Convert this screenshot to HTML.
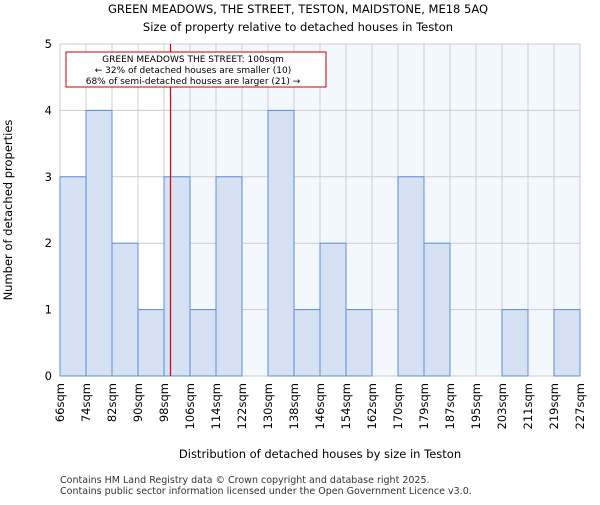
<!DOCTYPE html>
<html><head><meta charset="utf-8"><style>body{margin:0;background:#fff}svg{font-family:"DejaVu Sans","Liberation Sans",sans-serif}</style></head>
<body>
<svg id="c" width="600" height="500" xmlns="http://www.w3.org/2000/svg">
<text x="298" y="13" text-anchor="middle" font-size="11.5">GREEN MEADOWS, THE STREET, TESTON, MAIDSTONE, ME18 5AQ</text>
<text x="298" y="31" text-anchor="middle" font-size="11.5">Size of property relative to detached houses in Teston</text>
<g id="plot"></g>
<text x="320" y="458" text-anchor="middle" font-size="11.5">Distribution of detached houses by size in Teston</text>
<text transform="translate(12,210) rotate(-90)" text-anchor="middle" font-size="11.5">Number of detached properties</text>
<text x="60" y="483" font-size="9.5" fill="#333">Contains HM Land Registry data © Crown copyright and database right 2025.</text>
<text x="60" y="494" font-size="9.5" fill="#333">Contains public sector information licensed under the Open Government Licence v3.0.</text>
</svg>
<script>
const labels=["66sqm","74sqm","82sqm","90sqm","98sqm","106sqm","114sqm","122sqm","130sqm","138sqm","146sqm","154sqm","162sqm","170sqm","179sqm","187sqm","195sqm","203sqm","211sqm","219sqm","227sqm"];
const counts=[3,4,2,1,3,1,3,0,4,1,2,1,0,3,2,0,0,1,0,1];
const yTicks=[0,1,2,3,4,5];
const markerIndex=4.25;
const NS="http://www.w3.org/2000/svg";
const L=60,R=580,T=44,B=376,yMax=5;
const bw=(R-L)/counts.length;
const xs=i=>L+i*bw;
const ys=v=>B-(v/yMax)*(B-T);
const g=document.getElementById('plot');
function mk(t,a){const e=document.createElementNS(NS,t);for(const k in a)e.setAttribute(k,a[k]);g.appendChild(e);return e;}
const mx=xs(markerIndex);
let e=mk('rect',{x:mx,y:T,width:R-mx,height:B-T,fill:'#f3f7fe'});


for(let i=0;i<=counts.length;i++){e=mk('line',{x1:xs(i),x2:xs(i),y1:T,y2:B,stroke:'#cccccc'});

}
yTicks.forEach(v=>{e=mk('line',{x1:L,x2:R,y1:ys(v),y2:ys(v),stroke:'#cccccc'});


const t=mk('text',{x:L-8,y:ys(v)+4,'text-anchor':'end','font-size':11.5});t.textContent=v;

});
counts.forEach((c,i)=>{if(c<=0)return;e=mk('rect',{x:xs(i),y:ys(c),width:bw,height:B-ys(c),fill:'#d6e1f3',stroke:'#5b8fd6','stroke-width':1});

});
labels.forEach((l,i)=>{const x=xs(i);const t=mk('text',{transform:`translate(${x+4},383) rotate(-90)`,'text-anchor':'end','font-size':11.5});t.textContent=l;

});
e=mk('line',{x1:mx,x2:mx,y1:T,y2:B,stroke:'#dd0000','stroke-width':1.2});


e=mk('rect',{x:66,y:52,width:260,height:35,fill:'#fff',stroke:'#cc0000'});


["GREEN MEADOWS THE STREET: 100sqm","← 32% of detached houses are smaller (10)","68% of semi-detached houses are larger (21) →"].forEach((s,i)=>{const t=mk('text',{x:193,y:62+i*11,'text-anchor':'middle','font-size':9});t.textContent=s;

});
</script>
</body></html>
